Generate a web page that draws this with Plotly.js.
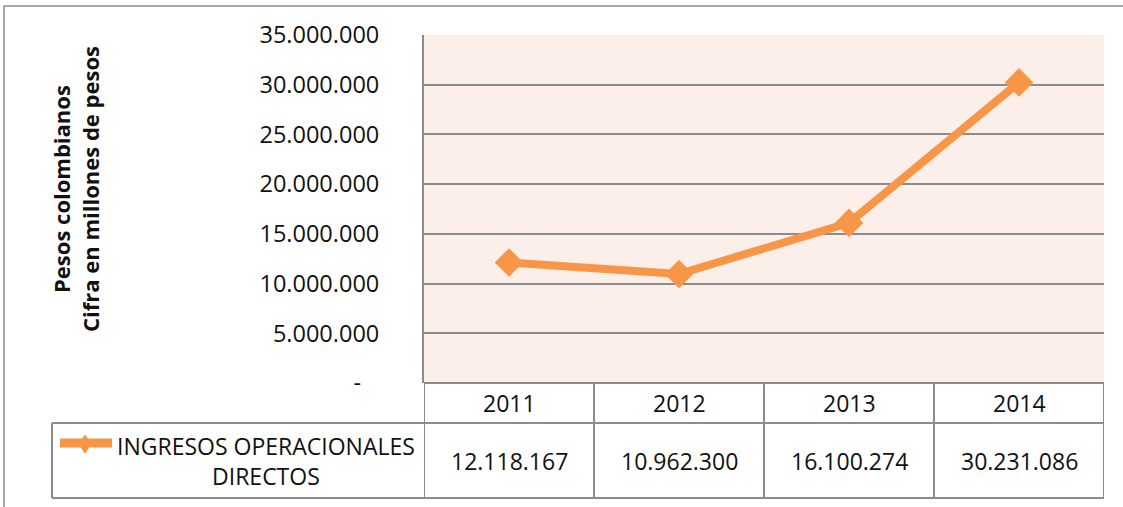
<!DOCTYPE html>
<html>
<head>
<meta charset="utf-8">
<script src="https://cdn.plot.ly/plotly-3.0.1.min.js"></script>
<style>html,body{margin:0;padding:0;background:#fff;}#chart{width:1123px;height:507px;}</style>
</head>
<body>
<div id="chart"></div>
<script>
// ---- data ----
const years = ['2011', '2012', '2013', '2014'];
const ingresos = [12118167, 10962300, 16100274, 30231086];
const seriesName = 'INGRESOS OPERACIONALES<br>DIRECTOS';
const yTickVals = [0, 5000000, 10000000, 15000000, 20000000, 25000000, 30000000, 35000000];
const yTitleLines = ['Pesos colombianos', 'Cifra en millones de pesos'];

function fmt(v) { return String(v).replace(/\B(?=(\d{3})+(?!\d))/g, '.'); }
const yTickText = yTickVals.map(v => v === 0 ? '-\u00a0\u00a0\u00a0' : fmt(v));

// ---- geometry helpers (pixel -> paper) ----
const W = 1123, H = 507, L = 424, R = 1104, T = 35, B = 383;
const px = X => (X - L) / (R - L);
const py = Y => (B - Y) / (B - T);

const FONT = 'Open Sans, Liberation Sans, sans-serif';
const COLOR = '#F79646';
const GRID = '#8c8c8c';
const TXT = '#111111';

const shapes = [];
const annotations = [];

// outer frame (right/bottom edges fall outside the picture)
shapes.push({type: 'rect', xref: 'paper', yref: 'paper', x0: px(4), x1: px(1140), y0: py(6), y1: py(525),
  line: {color: GRID, width: 1.5}, fillcolor: 'rgba(0,0,0,0)', layer: 'below'});

// data table
const rowTop = py(B), rowMid = py(423), rowBot = py(498);
const cellLeft = px(52);
shapes.push({type: 'line', xref: 'paper', yref: 'paper', x0: cellLeft, x1: 1, y0: rowMid, y1: rowMid, line: {color: GRID, width: 2}});
shapes.push({type: 'line', xref: 'paper', yref: 'paper', x0: cellLeft, x1: 1, y0: rowBot, y1: rowBot, line: {color: GRID, width: 2}});
shapes.push({type: 'line', xref: 'paper', yref: 'paper', x0: cellLeft, x1: cellLeft, y0: rowMid, y1: rowBot, line: {color: GRID, width: 2}});
for (let i = 0; i <= years.length; i++) {
  shapes.push({type: 'line', xref: 'x', yref: 'paper', x0: i - 0.5, x1: i - 0.5, y0: rowTop, y1: rowBot, line: {color: GRID, width: 2}});
}
years.forEach((yr, i) => {
  annotations.push({xref: 'x', yref: 'paper', x: i, y: py(403), text: yr, showarrow: false,
    font: {family: FONT, size: 23, color: TXT}, xanchor: 'center', yanchor: 'middle'});
  annotations.push({xref: 'x', yref: 'paper', x: i, y: py(461), text: fmt(ingresos[i]), showarrow: false,
    font: {family: FONT, size: 23, color: TXT}, xanchor: 'center', yanchor: 'middle'});
});

// legend key in table
shapes.push({type: 'line', xref: 'paper', yref: 'paper', x0: px(60), x1: px(112), y0: py(443), y1: py(443),
  line: {color: COLOR, width: 9}});
const cx = 85, cy = 444, dx = 6, dy = 9;
shapes.push({type: 'path', xref: 'paper', yref: 'paper',
  path: `M ${px(cx)} ${py(cy - dy)} L ${px(cx + dx)} ${py(cy)} L ${px(cx)} ${py(cy + dy)} L ${px(cx - dx)} ${py(cy)} Z`,
  fillcolor: COLOR, line: {color: COLOR, width: 1}});
annotations.push({xref: 'paper', yref: 'paper', x: px(266), y: py(461), text: seriesName, showarrow: false,
  align: 'center', font: {family: FONT, size: 23, color: TXT}, xanchor: 'center', yanchor: 'middle'});

// y title
annotations.push({xref: 'paper', yref: 'paper', x: px(75), y: py(189), text: yTitleLines.join('<br>'), showarrow: false,
  textangle: -90, align: 'center', font: {family: FONT, size: 22, color: TXT, weight: 'bold'},
  xanchor: 'center', yanchor: 'middle'});

const trace = {
  x: years, y: ingresos, type: 'scatter', mode: 'lines+markers', name: 'INGRESOS OPERACIONALES DIRECTOS',
  line: {color: COLOR, width: 8},
  marker: {symbol: 'diamond', size: 22, color: COLOR, line: {color: COLOR, width: 0}},
  cliponaxis: false, hoverinfo: 'skip'
};

const layout = {
  width: W, height: H,
  margin: {l: L, r: W - R, t: T, b: H - B, pad: 0},
  paper_bgcolor: '#ffffff', plot_bgcolor: '#FCEEE9',
  showlegend: false,
  xaxis: {type: 'category', range: [-0.5, years.length - 0.5], showgrid: false, zeroline: false,
    showticklabels: false, showline: false, fixedrange: true},
  yaxis: {range: [0, 35000000], tickvals: yTickVals, ticktext: yTickText, showgrid: true, gridcolor: GRID, gridwidth: 2,
    zeroline: true, zerolinecolor: GRID, zerolinewidth: 2, showline: true, linecolor: GRID, linewidth: 2,
    ticks: '', ticklabelstandoff: 38, tickfont: {family: FONT, size: 23.5, color: TXT}, fixedrange: true},
  shapes: shapes, annotations: annotations,
  font: {family: FONT}
};

Plotly.newPlot('chart', [trace], layout, {displayModeBar: false, staticPlot: true});
</script>
</body>
</html>
